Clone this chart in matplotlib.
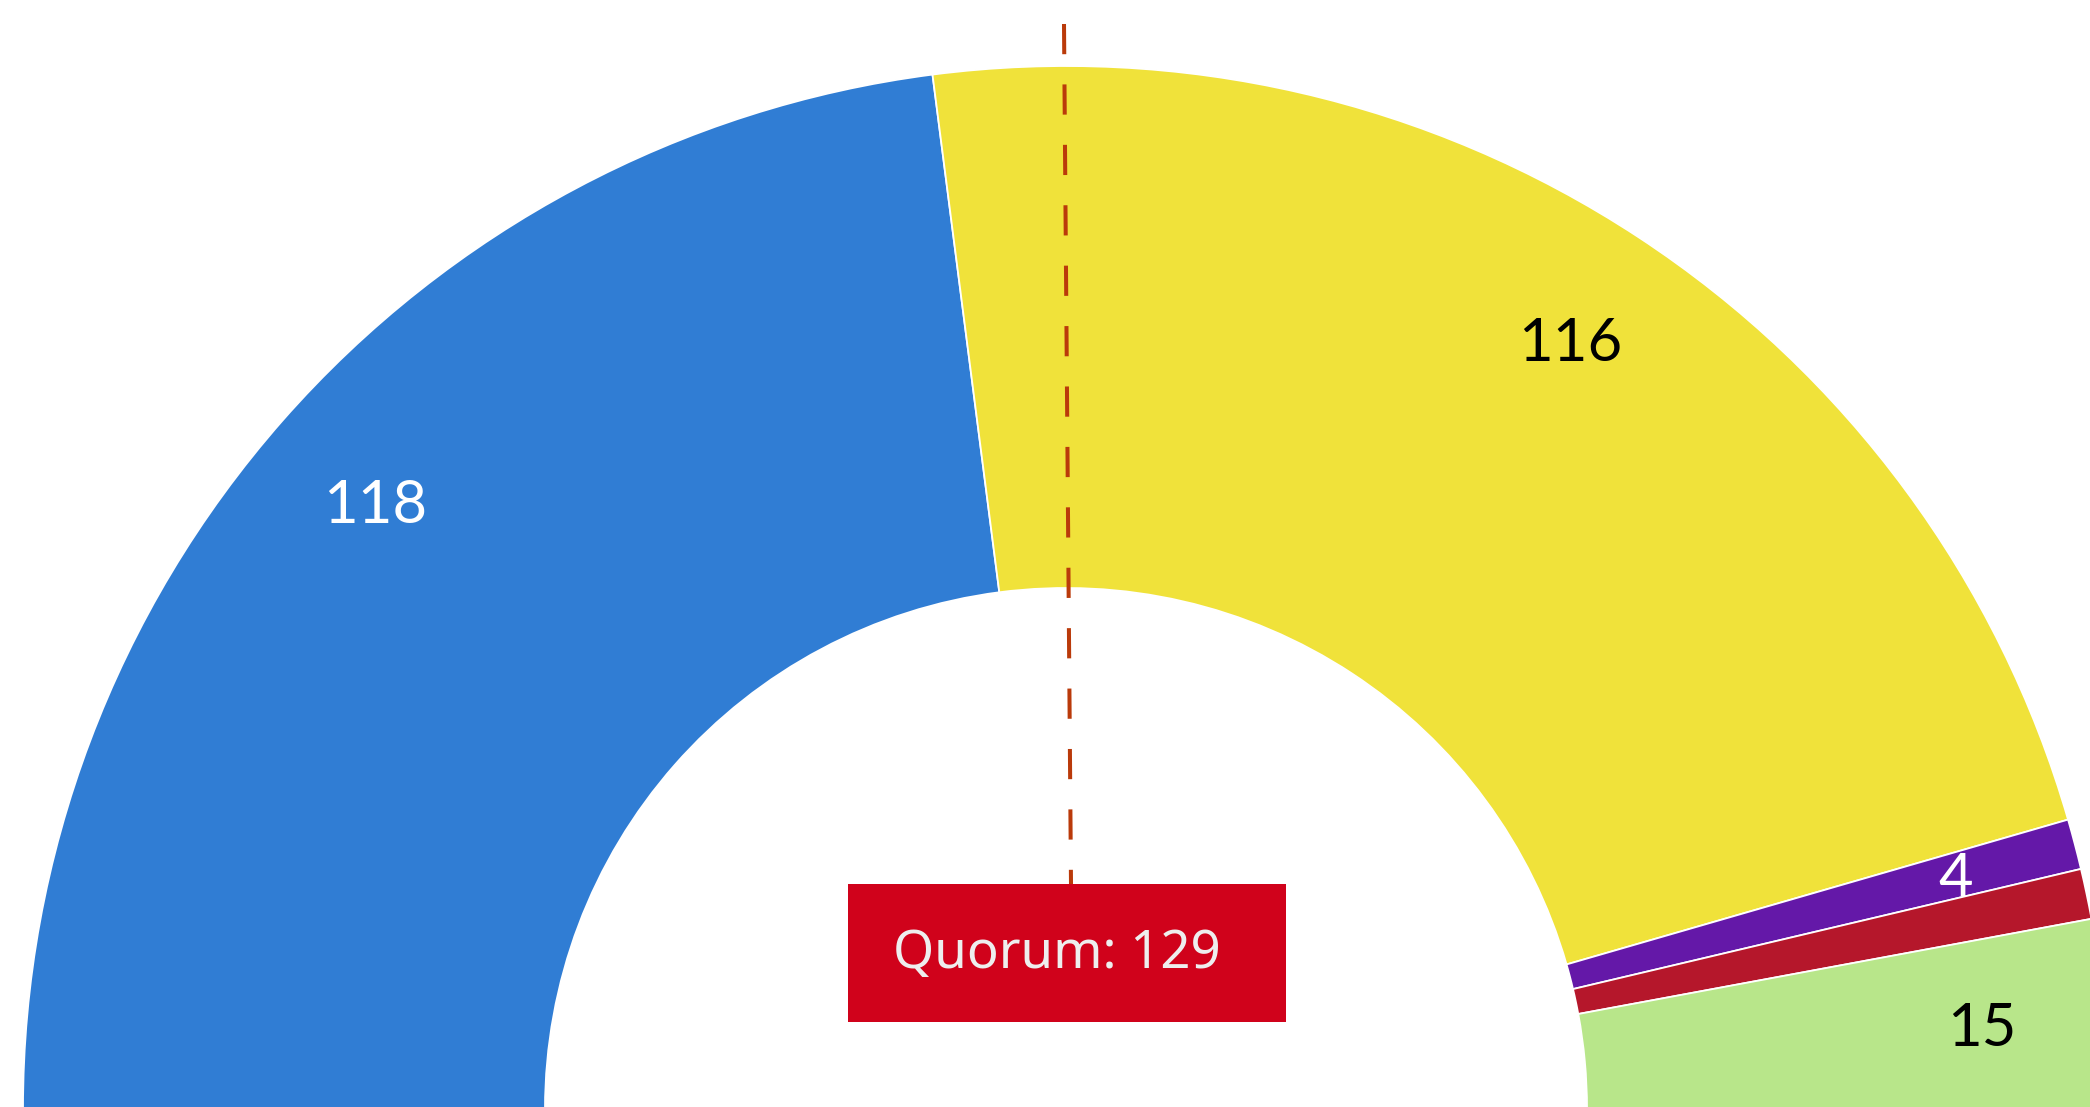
import matplotlib
matplotlib.use("Agg")
import matplotlib.pyplot as plt
from matplotlib.patches import Wedge, Rectangle
import numpy as np

# ---- data ----
parties = ["Blue", "Yellow", "Purple", "Red", "Green"]
seats = [118, 116, 4, 4, 15]
colors = ["#307DD4", "#F0E23A", "#6418A8", "#B5172B", "#B8E68A"]
label_colors = ["white", "black", "white", "white", "black"]
show_label = [True, True, True, False, True]
quorum = 129
quorum_text = "Quorum: 129"

# ---- layout (pixels) ----
W, H = 2090, 1107
cx, cy = 1066, -2          # centre of the half donut (y measured upward)
R_out, R_in = 1043, 521
R_lab = 920
cap_half = 21              # half the digit height, px

fig = plt.figure(figsize=(W / 100, H / 100), dpi=100)
ax = fig.add_axes([0, 0, 1, 1])
ax.set_xlim(0, W)
ax.set_ylim(0, H)
ax.set_aspect("equal")
ax.axis("off")

total = sum(seats)
cum = np.concatenate([[0], np.cumsum(seats)])
for i, s in enumerate(seats):
    t2 = 180 - cum[i] / total * 180
    t1 = 180 - cum[i + 1] / total * 180
    w = Wedge((cx, cy), R_out, t1, t2, width=R_out - R_in,
              facecolor=colors[i], edgecolor="white", linewidth=1.3, zorder=2)
    ax.add_patch(w)
    if show_label[i]:
        tm = np.deg2rad((t1 + t2) / 2)
        ax.text(cx + R_lab * np.cos(tm), cy + R_lab * np.sin(tm) - cap_half, str(s),
                ha="center", va="baseline", fontsize=43, family="Lato",
                color=label_colors[i], zorder=4)

# quorum dashed line
ax.plot([1064, 1071], [H - 24, H - 884], color="#BA3A0A", lw=2.9,
        ls=(0, (7.5, 7.5)), solid_capstyle="butt", dash_capstyle="butt", zorder=3)

# quorum box
ax.add_patch(Rectangle((848, H - 1022), 1286 - 848, 1022 - 884,
                       facecolor="#D0021B", edgecolor="none", zorder=5))
ax.text(893, H - 968, quorum_text, ha="left", va="baseline", fontsize=38,
        family="Noto Sans", color="#EEEEEE", zorder=6)

fig.savefig("out.png", dpi=100, facecolor="white")
